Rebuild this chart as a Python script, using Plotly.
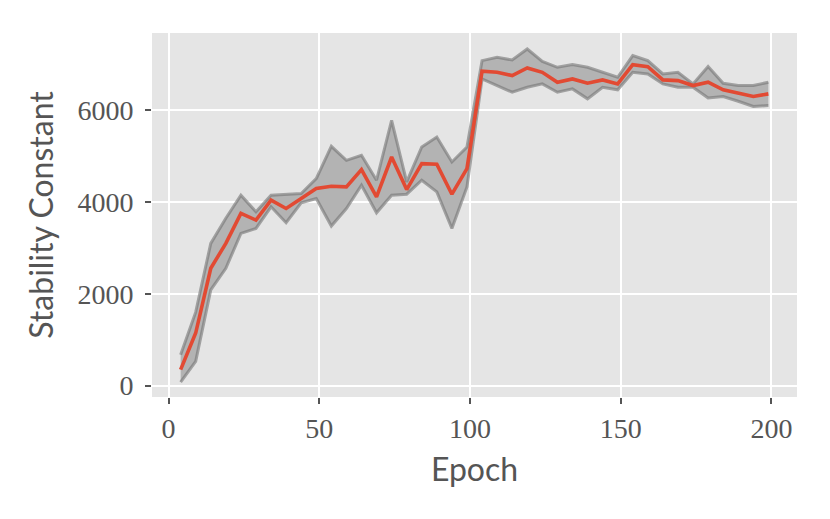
import plotly.graph_objects as go

epochs = [4 + 5 * k for k in range(40)]

mean_vals = [348, 1145, 2558, 3101, 3754, 3609, 4043, 3862, 4080, 4297,
             4348, 4333, 4710, 4116, 4985, 4275, 4841, 4826, 4174, 4732,
             6855, 6833, 6761, 6928, 6833, 6616, 6688, 6594, 6667, 6580,
             7000, 6957, 6667, 6652, 6543, 6616, 6450, 6377, 6304, 6362]

upper_vals = [674, 1600, 3101, 3650, 4152, 3790, 4152, 4174, 4189, 4514,
              5217, 4913, 5022, 4478, 5783, 4442, 5203, 5420, 4877, 5203,
              7087, 7159, 7101, 7341, 7072, 6942, 7000, 6942, 6833, 6724,
              7196, 7087, 6797, 6833, 6580, 6957, 6594, 6543, 6543, 6616]

lower_vals = [72, 528, 2087, 2558, 3319, 3428, 3898, 3551, 3985, 4080,
              3478, 3862, 4370, 3768, 4152, 4174, 4478, 4225, 3428, 4333,
              6688, 6543, 6398, 6507, 6580, 6398, 6471, 6254, 6507, 6450,
              6833, 6797, 6580, 6507, 6507, 6275, 6304, 6202, 6087, 6109]

x_ticks = [0, 50, 100, 150, 200]
y_ticks = [0, 2000, 4000, 6000]

fig = go.Figure()
fig.add_trace(go.Scatter(x=epochs, y=lower_vals, mode="lines",
                         line=dict(width=0), showlegend=False, hoverinfo="skip"))
fig.add_trace(go.Scatter(x=epochs, y=upper_vals, mode="lines", fill="tonexty",
                         fillcolor="#b3b3b3", line=dict(width=0),
                         showlegend=False, hoverinfo="skip"))
for ys in (lower_vals, upper_vals):
    fig.add_trace(go.Scatter(x=epochs, y=ys, mode="lines",
                             line=dict(color="rgba(115,115,115,0.6)", width=3),
                             showlegend=False, hoverinfo="skip"))
fig.add_trace(go.Scatter(x=epochs, y=mean_vals, mode="lines",
                         line=dict(color="#E24A33", width=3.6), showlegend=False))

tick_font = dict(family="Liberation Serif, serif", size=28, color="#555555")
title_font = dict(family="Lato, sans-serif", size=32, color="#555555")

fig.update_layout(
    width=830, height=519,
    margin=dict(l=144, r=41, t=25, b=130),
    paper_bgcolor="white",
    plot_bgcolor="#E5E5E5",
    xaxis=dict(range=[-5.5, 208.5], tickvals=x_ticks, ticktext=[str(v) for v in x_ticks],
               showgrid=True, gridcolor="white", gridwidth=1.6,
               zeroline=False, showline=False,
               ticks="outside", ticklen=6, tickwidth=1.5, tickcolor="#555555",
               tickfont=tick_font,
               title=dict(text="Epoch", font=title_font, standoff=16)),
    yaxis=dict(range=[-250, 7690], tickvals=y_ticks, ticktext=[str(v) for v in y_ticks],
               showgrid=True, gridcolor="white", gridwidth=1.6,
               zeroline=False, showline=False,
               ticks="outside", ticklen=6, tickwidth=1.5, tickcolor="#555555",
               tickfont=tick_font, ticklabelstandoff=6,
               title=dict(text="Stability Constant", font=title_font, standoff=14)),
)

fig.write_html("out.html")
